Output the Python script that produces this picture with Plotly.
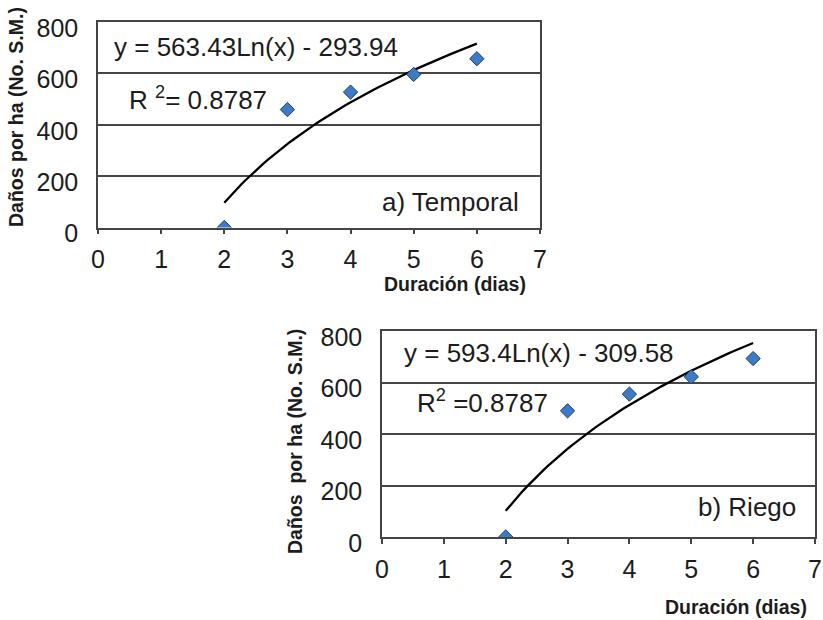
import numpy as np
import plotly.graph_objects as go

W, H = 823, 620

# ---- data ----
dias = [2, 3, 4, 5, 6]
danos_temporal = [0, 459, 527, 596, 657]
danos_riego = [0, 490, 555, 622, 693]

# logarithmic trend coefficients shown on the chart
temporal_a, temporal_b = 563.43, -293.94
riego_a, riego_b = 593.4, -309.58

x_ticks = [0, 1, 2, 3, 4, 5, 6, 7]
y_ticks = [0, 200, 400, 600, 800]

eq_temporal = "y = 563.43Ln(x) - 293.94"
r2_temporal = "R <sup>2</sup>= 0.8787"
eq_riego = "y = 593.4Ln(x) - 309.58"
r2_riego = "R<sup>2</sup> =0.8787"
lab_temporal = "a) Temporal"
lab_riego = "b) Riego"
ytitle_temporal = "Daños por ha (No. S.M.)"
ytitle_riego = "Daños  por ha (No. S.M.)"
xtitle = "Duración (dias)"

FONT = "Liberation Sans, Arial, sans-serif"
TXT = "#1c1c1c"

trend_x = np.linspace(2, 6, 60)

def px(x):
    return x / W

def py(y):
    return 1 - y / H

fig = go.Figure()

marker = dict(symbol="diamond", size=11, color="#3d7cc4",
              line=dict(color="#1d3d6b", width=1))

fig.add_trace(go.Scatter(x=trend_x, y=temporal_a * np.log(trend_x) + temporal_b,
                         mode="lines", line=dict(color="black", width=2.3),
                         xaxis="x", yaxis="y", hoverinfo="skip"))
fig.add_trace(go.Scatter(x=dias, y=danos_temporal, mode="markers", marker=marker,
                         xaxis="x", yaxis="y"))
fig.add_trace(go.Scatter(x=trend_x, y=riego_a * np.log(trend_x) + riego_b,
                         mode="lines", line=dict(color="black", width=2.3),
                         xaxis="x2", yaxis="y2", hoverinfo="skip"))
fig.add_trace(go.Scatter(x=dias, y=danos_riego, mode="markers", marker=marker,
                         xaxis="x2", yaxis="y2"))

xcommon = dict(range=[0, 7], tickvals=x_ticks, showgrid=False, zeroline=False,
               showline=True, linecolor="#444", linewidth=1.5, mirror=True,
               ticks="outside", ticklen=5, tickcolor="#444", tickwidth=1.5,
               tickfont=dict(family=FONT, size=25, color=TXT),
               ticklabelstandoff=4, automargin=False)
ycommon = dict(range=[0, 800], tickvals=y_ticks, showgrid=True, gridcolor="#454545",
               gridwidth=1.6, zeroline=False, showline=True, linecolor="#444",
               linewidth=1.5, mirror=True, ticks="",
               tickfont=dict(family=FONT, size=25, color=TXT),
               ticklabelstandoff=13, ticklabelshift=6, automargin=False)

fig.update_layout(
    width=W, height=H, margin=dict(l=0, r=0, t=0, b=0, autoexpand=False),
    paper_bgcolor="white", plot_bgcolor="white", showlegend=False,
    xaxis=dict(domain=[px(98), px(540)], anchor="y", **xcommon),
    yaxis=dict(domain=[py(227.5), py(22)], anchor="x", **ycommon),
    xaxis2=dict(domain=[px(382), px(815)], anchor="y2", **xcommon),
    yaxis2=dict(domain=[py(537), py(331)], anchor="x2", **ycommon),
)

def ann(text, x, y, size, xanchor="left", bold=False, angle=0):
    fig.add_annotation(text=f"<b>{text}</b>" if bold else text,
                       x=px(x), y=py(y), xref="paper", yref="paper",
                       xanchor=xanchor, yanchor="middle", showarrow=False,
                       textangle=angle,
                       font=dict(family=FONT, size=size, color=TXT))

ann(eq_temporal, 112, 47, 26)
ann(r2_temporal, 127, 98, 26)
ann(lab_temporal, 380, 202, 26)
ann(eq_riego, 402, 353, 26)
ann(r2_riego, 415, 401, 26)
ann(lab_riego, 696, 507, 26)

ann(xtitle, 455, 284, 19.5, xanchor="center", bold=True)
ann(xtitle, 736, 607, 19.5, xanchor="center", bold=True)
ann(ytitle_temporal, 16, 117, 19.5, xanchor="center", bold=True, angle=-90)
ann(ytitle_riego, 295, 442, 19.5, xanchor="center", bold=True, angle=-90)

fig.write_html("out.html")
